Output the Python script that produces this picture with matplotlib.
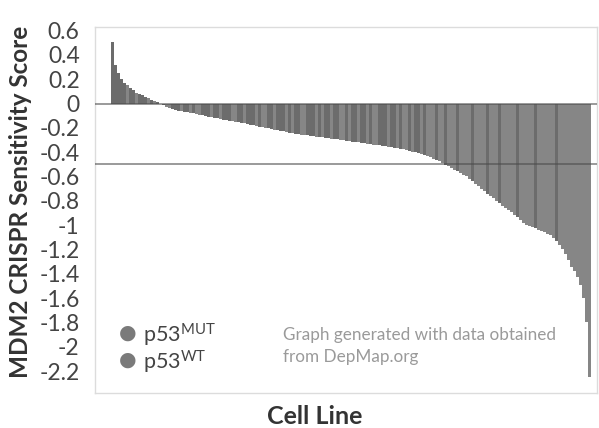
import matplotlib
matplotlib.use("Agg")
import matplotlib.pyplot as plt

plt.rcParams['font.family'] = ['Lato', 'DejaVu Sans']
plt.rcParams['mathtext.fontset'] = 'custom'
plt.rcParams['mathtext.rm'] = 'Lato'
plt.rcParams['mathtext.it'] = 'Lato:italic'
plt.rcParams['mathtext.bf'] = 'Lato:bold'

# MDM2 CRISPR sensitivity score per cell line (sorted)
scores = [
    0.51, 0.32, 0.25, 0.20, 0.17, 0.15, 0.13, 0.11, 0.09, 0.08,
    0.067, 0.055, 0.043, 0.031, 0.02, 0.01, -0.003, -0.014, -0.025, -0.034,
    -0.042, -0.05, -0.057, -0.063, -0.067, -0.072, -0.076, -0.081, -0.086, -0.092,
    -0.097, -0.102, -0.108, -0.112, -0.117, -0.122, -0.127, -0.132, -0.137, -0.142,
    -0.146, -0.15, -0.154, -0.158, -0.163, -0.168, -0.173, -0.178, -0.184, -0.189,
    -0.194, -0.199, -0.204, -0.209, -0.214, -0.219, -0.224, -0.229, -0.235, -0.24,
    -0.245, -0.248, -0.252, -0.255, -0.259, -0.262, -0.266, -0.269, -0.272, -0.275,
    -0.278, -0.281, -0.284, -0.288, -0.291, -0.294, -0.297, -0.301, -0.304, -0.308,
    -0.312, -0.315, -0.319, -0.322, -0.326, -0.33, -0.333, -0.337, -0.341, -0.344,
    -0.347, -0.351, -0.354, -0.358, -0.361, -0.366, -0.371, -0.377, -0.383, -0.389,
    -0.395, -0.401, -0.407, -0.415, -0.424, -0.433, -0.443, -0.452, -0.463, -0.474,
    -0.487, -0.501, -0.515, -0.528, -0.543, -0.557, -0.571, -0.585, -0.599, -0.62,
    -0.64, -0.659, -0.68, -0.70, -0.72, -0.74, -0.76, -0.78, -0.80, -0.82,
    -0.84, -0.86, -0.873, -0.893, -0.913, -0.934, -0.958, -0.98, -0.995, -1.008,
    -1.018, -1.027, -1.036, -1.046, -1.058, -1.07, -1.083, -1.105, -1.128, -1.16,
    -1.194, -1.24, -1.29, -1.34, -1.38, -1.43, -1.49, -1.6, -1.8, -2.25,
]

# p53 status per cell line (M = mutant, W = wild type)
status = ("MMMMMWMMWM" "MMWMWMMMWW" "MMMWMMWMWW" "MMMWMMWMMM"
          "WWMMWMMMWM" "WWMMWMMMWM" "WMMWWMMMWM" "WMMWMMWWMW"
          "MMWMMWMWWM" "MMWMMWMWWM" "WMMWMWWWMW" "WMWWWMWWWW"
          "MWWWWMWWWM" "WWWWWMWWWW" "WMWWWWWWMW" "WWWWWWWWWW")

threshold_lines = [0, -0.5]
ytick_values = [0.6, 0.4, 0.2, 0, -0.2, -0.4, -0.6, -0.8, -1, -1.2, -1.4,
                -1.6, -1.8, -2, -2.2]
ytick_labels = ["0.6", "0.4", "0.2", "0", "-0.2", "-0.4", "-0.6", "-0.8", "-1",
                "-1.2", "-1.4", "-1.6", "-1.8", "-2", "-2.2"]
legend_labels = [r"p53$^{\mathrm{MUT}}$", r"p53$^{\mathrm{WT}}$"]

status_colors = {"M": "#6c6c6c", "W": "#868686"}

fig = plt.figure(figsize=(5.99, 4.28), dpi=100)
fig.patch.set_facecolor("white")
ax = fig.add_axes([95 / 599, (428 - 393) / 428, (597 - 95) / 599, (393 - 27) / 428])

n = len(scores)
xs = list(range(n))
cols = [status_colors[s] for s in status[:n]]
ax.bar(xs, scores, width=1.0, align="edge", color=cols,
       linewidth=0, antialiased=False, zorder=2)

for yv in threshold_lines:
    ax.axhline(yv, color="#4a4a4a", alpha=0.6, lw=1.3, zorder=3)

ax.set_xlim(-5.3, n + 2)
ax.set_ylim(-2.38, 0.63)
ax.set_yticks(ytick_values)
ax.set_yticklabels(ytick_labels)
ax.set_xticks([])
ax.tick_params(axis="y", length=0, pad=11, labelsize=16.5, labelcolor="#444444")

for side in ["left", "top", "right", "bottom"]:
    ax.spines[side].set_color("#dcdcdc")
    ax.spines[side].set_linewidth(1.0)

fig.text(21 / 599, 1 - 202 / 428, "MDM2 CRISPR Sensitivity Score", fontsize=17.5,
         fontweight="bold", color="#333333", rotation=90, ha="center", va="center")
fig.text(315 / 599, 1 - 417 / 428, "Cell Line", fontsize=18, fontweight="bold",
         color="#333333", ha="center", va="center")

# legend
leg_y = [333, 360]
for lab, yy in zip(legend_labels, leg_y):
    fig.text(128 / 599, 1 - yy / 428, "\u25CF", fontsize=14.5, color="#7a7a7a",
             ha="center", va="center", family="DejaVu Sans")
    fig.text(143 / 599, 1 - (yy + 2) / 428, lab, fontsize=15.5, color="#444444",
             ha="left", va="center")

fig.text(283 / 599, 1 - 335 / 428, "Graph generated with data obtained",
         fontsize=12.3, color="#9a9a9a", ha="left", va="center")
fig.text(283 / 599, 1 - 357 / 428, "from DepMap.org",
         fontsize=12.3, color="#9a9a9a", ha="left", va="center")

fig.savefig("out.png", dpi=100, facecolor="white")
